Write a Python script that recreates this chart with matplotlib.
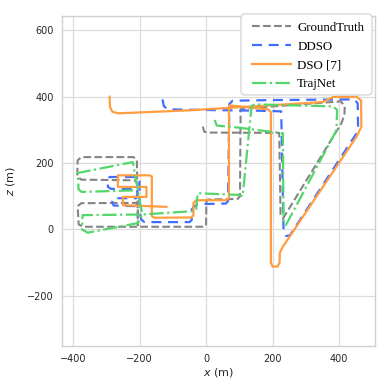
import matplotlib
matplotlib.use("Agg")
from matplotlib import pyplot as plt
from matplotlib.patches import FancyBboxPatch
from matplotlib.transforms import IdentityTransform

# trajectories, top view (x, z) in metres
gt_x = [-10, -5, 10, 220, 224, 232, 407, 416, 417, 405, 106, 104, 102, 95, 5, 1, 0, -5, -370, -383, -386, -375,
        -212, -205, -205, -207, -215, -375, -387, -386, -375, -218, -208, -207]
gt_y = [310, 294, 292, 291, 45, 34, 320, 345, 372, 386, 364, 355, 100, 92, 90, 82, 12, 8, 8, 15, 70, 79,
        80, 72, 12, 140, 148, 150, 160, 208, 218, 218, 210, 150]

ddso_x = [-131, -127, -115, 0, 150, 226, 233, 240, 252, 452, 457, 456, 446, 200, 80, 70, 66, 60, -25, -35, -43,
          -43, -50, -185, -195, -200, -200, -210, -290, -295, -295, -285, -210, -205, -210, -278, -282, -278, -205]
ddso_y = [392, 372, 362, 360, 358, 356, -5, -20, -18, 289, 310, 380, 392, 390, 388, 378, 85, 78, 76, 70, 60,
          28, 22, 22, 30, 60, 150, 158, 158, 150, 128, 122, 122, 110, 94, 94, 85, 72, 70]

dso_x = [-290, -289, -282, -265, -49, 351, 381, 452, 466, 467, 452, 231, 222, 221, 215, 200, 195, 195, 186, 71,
         69, 69, 60, -30, -38, -38, -45, -155, -163, -163, -170, -265, -265, -179, -179, -250, -250, -119]
dso_y = [400, 370, 355, 350, 359, 384, 399, 400, 389, 309, 279, -52, -70, -100, -112, -112, -100, 354, 362, 374,
         365, 95, 88, 88, 80, 42, 36, 35, 40, 160, 163, 163, 128, 128, 98, 98, 73, 68]

tn_x = [26, 32, 80, 231, 233, 240, 392, 394, 382, 146, 137, 110, 100, -25, -30, -40, -190, -371, -373, -356,
        -205, -192, -220, -386, -383, -374, -208]
tn_y = [330, 313, 309, 290, 25, 13, 299, 360, 371, 377, 372, 100, 104, 109, 60, 55, 45, 43, 0, -10,
        19, 45, 203, 170, 120, 113, 118]

x_ticks = [-400, -200, 0, 200, 400]
z_ticks = [-200, 0, 200, 400, 600]

W, H = 390, 392
fig = plt.figure(figsize=(W / 100, H / 100), dpi=100)
ax = fig.add_axes([0.159, 0.117, 0.8026, 0.8418])

ax.plot(gt_x, gt_y, color='#848484', ls='--', lw=1.5, label='GroundTruth')
ax.plot(ddso_x, ddso_y, color='#416eff', ls=(0, (4.5, 3)), lw=1.6, label='DDSO')
ax.plot(dso_x, dso_y, color='#ff9d40', ls='-', lw=1.6, label='DSO [7]')
ax.plot(tn_x, tn_y, color='#54d76a', ls='-.', lw=1.6, label='TrajNet')

ax.set_xlim(-433, 508)
ax.set_ylim(-352, 643)
ax.set_xticks(x_ticks)
ax.set_yticks(z_ticks)
ax.grid(True, color='#dcdcdc', lw=0.9)
ax.set_axisbelow(True)
for sp in ax.spines.values():
    sp.set_color('#d0d0d0')
    sp.set_linewidth(1.0)
ax.tick_params(length=0, pad=6, labelsize=7, labelcolor='#262626')
ax.set_xlabel('$x$ (m)', fontsize=8, color='#262626', labelpad=1)
ax.set_ylabel('$z$ (m)', fontsize=8, color='#262626', labelpad=7)

# legend box drawn by hand so it can be wider than its content
frame = FancyBboxPatch((241, H - 95), 131, 81, boxstyle='round,pad=0,rounding_size=4',
                       transform=IdentityTransform(), facecolor='white', edgecolor='#d8d8d8',
                       lw=1.0, zorder=4.5, clip_on=False)
ax.add_patch(frame)
leg = ax.legend(loc='upper right', bbox_to_anchor=(372 / W, 1 - 14 / H), bbox_transform=fig.transFigure,
                prop={'family': 'Liberation Serif', 'size': 9.3}, frameon=False,
                handlelength=3.0, handletextpad=0.5, labelspacing=0.52, borderpad=0.6,
                borderaxespad=0)

fig.savefig('out.png', dpi=100)
